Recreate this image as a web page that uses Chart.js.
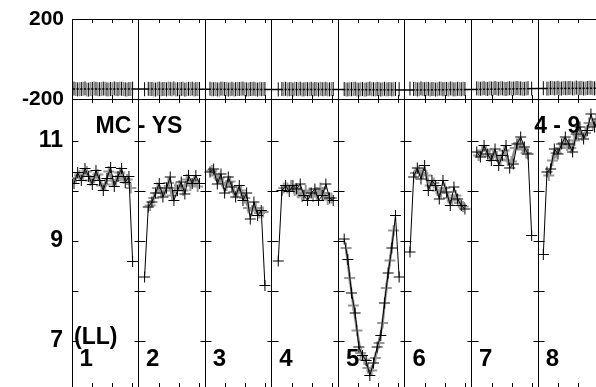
<!DOCTYPE html>
<html><head><meta charset="utf-8">
<script src="https://cdn.jsdelivr.net/npm/chart.js@4/dist/chart.umd.min.js"></script>
<style>html,body{margin:0;padding:0;background:#fff;overflow:hidden}canvas{display:block}</style>
</head><body>
<canvas id="c" width="596" height="387"></canvas>
<script>
// ---------- data ----------
const nights = ['1','2','3','4','5','6','7','8'];
const STEP = 0.055;                         // spacing of exposures (fraction of a night)
const blackStart = [0.030,0.090,0.072,0.097,0.087,0.075,0.077,0.077];
const blackMag = [
 [10.14,10.36,10.20,10.44,10.28,10.12,10.40,10.20,10.00,10.24,10.46,10.08,10.28,10.44,10.16,10.28,8.58],
 [8.27,9.67,9.77,9.95,10.14,9.87,10.05,10.27,9.80,10.00,10.17,9.93,10.30,10.14,10.30,10.14],
 [10.37,10.43,10.13,10.33,9.95,10.27,10.07,9.87,10.10,9.80,9.95,9.43,9.77,9.50,9.60,8.10],
 [8.59,10.00,10.10,9.98,10.10,10.03,10.13,9.90,9.80,9.95,10.03,9.80,9.90,10.13,9.85,9.80],
 [9.03,8.62,7.95,7.55,6.87,6.70,6.60,6.30,6.55,6.87,7.10,7.75,8.35,8.85,9.50,8.27],
 [8.77,10.27,10.45,10.23,10.50,10.00,10.20,10.10,9.83,10.20,9.97,9.70,10.07,9.83,9.70,9.63],
 [10.77,10.67,10.90,10.73,10.60,10.83,10.50,10.70,10.90,10.45,10.53,10.93,11.07,10.87,10.73,9.10],
 [8.72,10.37,10.43,10.83,10.73,10.93,11.07,10.93,10.77,11.13,11.27,11.03,11.20,11.53,11.27,11.43]
];
const grayStart = [0.0575,0.1725,0.0995,0.1795,0.1145,0.1575,0.1045,0.1595];
const grayMag = [
 [10.25,10.30,10.32,10.38,10.20,10.25,10.32,10.10,10.12,10.38,10.20,10.20,10.36,10.24,10.22,10.05],
 [9.70,9.85,10.05,9.95,10.00,10.15,9.90,10.05,10.10,10.00,10.22,10.10,10.20,10.08],
 [10.40,10.30,10.25,10.15,10.10,10.18,9.97,9.95,10.00,9.85,9.65,9.60,9.65,9.55,9.57],
 [10.05,10.05,10.10,10.00,9.95,9.88,10.00,9.95,9.88,9.92,10.05,9.95,9.82,9.85],
 [8.85,8.25,7.70,7.20,6.75,6.62,6.45,6.40,6.65,6.95,7.35,8.05,8.60,9.20],
 [10.35,10.40,10.35,10.30,10.10,10.15,10.00,9.95,10.05,9.85,9.80,9.90,9.75,9.68],
 [10.70,10.80,10.80,10.68,10.70,10.68,10.62,10.80,10.60,10.58,10.85,10.95,10.82,10.75],
 [10.30,10.60,10.75,10.85,10.95,10.90,10.85,11.00,11.10,11.10,11.15,11.35,11.30,11.40]
];
const blackResid = [
 [-148,-152,-150,-147,-153,-150,-149,-151,-148,-152,-150,-147,-151,-149,-152,-150,-148],
 [-151,-149,-150,-153,-148,-150,-152,-149,-147,-151,-150,-153,-149,-148,-151,-150],
 [-149,-151,-152,-148,-150,-153,-149,-151,-150,-148,-152,-150,-149,-153,-151,-150],
 [-152,-150,-149,-151,-153,-150,-148,-152,-151,-149,-150,-153,-151,-149,-152,-150],
 [-150,-152,-151,-149,-153,-150,-152,-148,-151,-150,-153,-149,-151,-152,-150,-151],
 [-148,-150,-152,-147,-151,-149,-150,-153,-148,-151,-150,-147,-152,-149,-151,-150],
 [-147,-149,-146,-150,-148,-145,-149,-147,-150,-146,-148,-145,-147,-149,-146,-148],
 [-146,-148,-145,-147,-144,-148,-146,-145,-147,-143,-146,-148,-145,-144,-147,-146]
];
const grayResid = [
 [-150,-151,-149,-152,-150,-148,-151,-150,-149,-152,-151,-150,-148,-150,-152,-150],
 [-150,-152,-149,-151,-150,-148,-151,-152,-150,-149,-151,-150,-152,-150],
 [-151,-150,-152,-149,-150,-151,-153,-150,-149,-151,-152,-150,-151,-149,-150],
 [-151,-152,-150,-149,-151,-152,-150,-151,-152,-150,-149,-151,-152,-150],
 [-152,-151,-150,-152,-151,-153,-150,-151,-152,-150,-151,-152,-150,-151],
 [-149,-151,-150,-149,-152,-150,-151,-149,-150,-152,-149,-151,-150,-149],
 [-148,-147,-149,-146,-148,-147,-146,-149,-147,-148,-146,-147,-149,-147],
 [-147,-145,-146,-148,-145,-146,-144,-147,-146,-145,-147,-144,-146,-145]
];
const residLine = [-150,-150,-151,-152,-153,-155,-153,-148,-146]; // at night boundaries 0..8
const topTicks = [-200, 0, 200];
const magLabels = [7, 9, 11];
const magTicks = [7, 8, 9, 10, 11];
const timeTicks = [0.3, 0.6, 0.9];
const titleLeft = 'MC - YS';
const titleRight = '4 - 9';
const bandLabel = '(LL)';

// ---------- build point lists through the scales ----------
function series(starts, vals) {
  const pts = [];
  vals.forEach((arr, k) => {
    arr.forEach((v, i) => pts.push({x: k + starts[k] + i * STEP, y: v}));
    pts.push({x: k + 0.99, y: null});
  });
  return pts;
}
const FONT = '"Liberation Sans", Arial, Helvetica, sans-serif';

const frame = {
  id: 'frame',
  afterDatasetsDraw(chart) {
    const {ctx, chartArea: a, scales: {x, yTop, yBot}} = chart;
    ctx.save();
    ctx.strokeStyle = '#000';
    ctx.lineWidth = 1;
    ctx.beginPath();
    for (let k = 0; k < nights.length; k++) {
      const sx = Math.round(x.getPixelForValue(k)) + 0.5;
      magTicks.forEach(v => {
        const py = Math.round(yBot.getPixelForValue(v)) + 0.5;
        ctx.moveTo(k === 0 ? sx : sx - 5, py);
        ctx.lineTo(sx + 6, py);
      });
      timeTicks.forEach(f => {
        const px = Math.round(x.getPixelForValue(k + f)) + 0.5;
        if (px > a.right) return;
        ctx.moveTo(px, a.top); ctx.lineTo(px, a.top + 4);
        ctx.moveTo(px, yTop.bottom - 4); ctx.lineTo(px, yTop.bottom + 4);
        ctx.moveTo(px, a.bottom - 4); ctx.lineTo(px, a.bottom);
      });
    }
    ctx.stroke();
    ctx.fillStyle = '#000';
    ctx.textAlign = 'left';
    ctx.textBaseline = 'alphabetic';
    ctx.font = 'bold 24px ' + FONT;
    nights.forEach((n, k) => ctx.fillText(n, x.getPixelForValue(k) + 7.5, a.bottom - 21));
    ctx.font = 'bold 23px ' + FONT;
    ctx.fillText(titleLeft, x.getPixelForValue(0) + 23.5, yBot.top + 34);
    ctx.fillText(titleRight, x.getPixelForValue(7) - 4, yBot.top + 34);
    ctx.fillText(bandLabel, x.getPixelForValue(0) + 2, a.bottom - 43);
    ctx.restore();
  }
};

const gray = '#8c8c8c';
new Chart(document.getElementById('c'), {
  type: 'line',
  data: {
    datasets: [
      { data: series(blackStart, blackMag), yAxisID: 'yBot', borderColor: '#000', borderWidth: 1,
        pointStyle: 'cross', pointRadius: 5.5, pointBorderColor: '#000', pointBorderWidth: 1,
        spanGaps: false, tension: 0 },
      { data: series(grayStart, grayMag), yAxisID: 'yBot', borderColor: gray, borderWidth: 2.4,
        pointStyle: 'cross', pointRadius: 5.5, pointBorderColor: '#999', pointBorderWidth: 2,
        spanGaps: false, tension: 0 },
      { data: series(blackStart, blackResid), yAxisID: 'yTop', showLine: false,
        pointStyle: 'line', pointRotation: 90, pointRadius: 7, pointBorderColor: '#000', pointBorderWidth: 1 },
      { data: series(grayStart, grayResid), yAxisID: 'yTop', showLine: false,
        pointStyle: 'line', pointRotation: 90, pointRadius: 7, pointBorderColor: '#8f8f8f', pointBorderWidth: 1.6 },
      { data: residLine.map((v, k) => ({x: k, y: v})), yAxisID: 'yTop', borderColor: '#000',
        borderWidth: 1.5, pointRadius: 0, tension: 0 }
    ]
  },
  options: {
    responsive: false,
    devicePixelRatio: 1,
    animation: false,
    events: [],
    layout: { autoPadding: false, padding: { top: 19, left: 0, right: 0, bottom: 0 } },
    plugins: { legend: { display: false }, tooltip: { enabled: false } },
    scales: {
      x: {
        type: 'linear', min: 0, max: 7.868,
        ticks: { display: false, stepSize: 1, includeBounds: false },
        grid: { color: '#000', lineWidth: 1, drawTicks: false },
        border: { display: false },
        afterFit: s => { s.height = 0; s.paddingLeft = 0; s.paddingRight = 0; }
      },
      yTop: {
        type: 'linear', position: 'left', stack: 'panels', stackWeight: 80, weight: 2,
        min: -200, max: 200,
        afterBuildTicks: s => { s.ticks = topTicks.map(v => ({value: v})); },
        ticks: { padding: 8, color: '#000', font: { family: FONT, size: 21, weight: 'bold' },
                 callback: v => v === 0 ? '' : String(v) },
        grid: { color: '#000', lineWidth: 1, drawTicks: false },
        border: { display: false },
        afterFit: s => { s.width = 72; s.paddingTop = 0; s.paddingBottom = 0; }
      },
      yBot: {
        type: 'linear', position: 'left', stack: 'panels', stackWeight: 288, weight: 1,
        min: 6.07, max: 11.83,
        afterBuildTicks: s => { s.ticks = magLabels.map(v => ({value: v})); },
        ticks: { padding: 9, color: '#000', font: { family: FONT, size: 23, weight: 'bold' },
                 callback: v => String(v) },
        grid: { display: false, drawTicks: false },
        border: { display: false },
        afterFit: s => { s.width = 72; s.paddingTop = 0; s.paddingBottom = 0; }
      }
    }
  },
  plugins: [frame]
});
</script>
</body></html>
